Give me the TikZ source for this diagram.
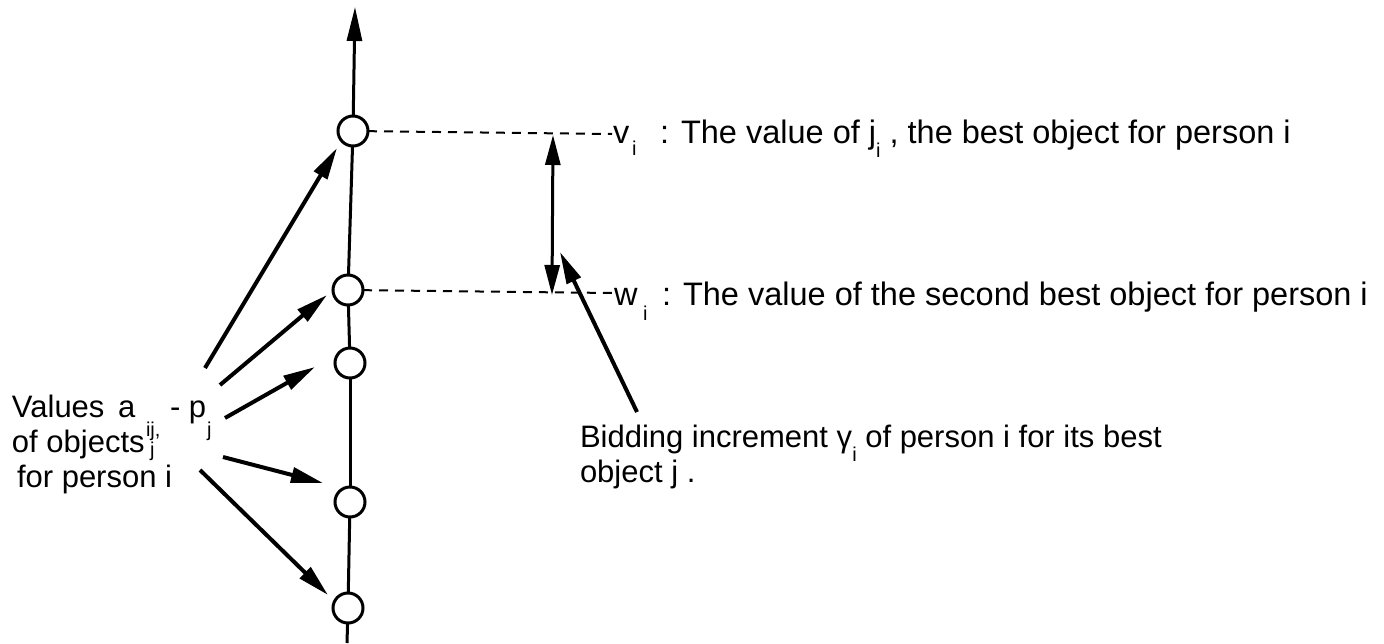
\documentclass[tikz,border=0pt]{standalone}
\usepackage{fontspec}
\setmainfont{Liberation Sans}
\usetikzlibrary{arrows.meta}
\newcommand{\lsub}[1]{\raisebox{-14pt}{\fontsize{20}{20}\selectfont #1}}
\begin{document}
\begin{tikzpicture}[x=1pt,y=-1pt,
  every node/.style={font=\fontsize{31}{36}\selectfont, inner sep=0pt, outer sep=0pt},
  big/.style={font=\fontsize{32.5}{38}\selectfont},
  obj/.style={circle, draw, line width=3pt, minimum size=30pt, fill=white},
  axisline/.style={line width=3pt},
  arr/.style={line width=4pt, -{Triangle[length=32pt,width=15pt]}},
  guide/.style={line width=2pt, dash pattern=on 9pt off 7pt},
  lbl/.style={anchor=base west},
  small/.style={anchor=base west, font=\fontsize{20}{20}\selectfont}]
\useasboundingbox (0,0) rectangle (1384,643);
% objects on the value axis
\node[obj] (c1) at (353,131) {};
\node[obj] (c2) at (348,290) {};
\node[obj] (c3) at (350,363) {};
\node[obj] (c4) at (350,502) {};
\node[obj] (c5) at (348,608) {};
\coordinate (top) at (355,7);
\coordinate (bot) at (347,643);
\draw[axisline, -{Triangle[length=34pt,width=15pt]}] (c1) -- (top);
\draw[axisline] (c1) -- (c2);
\draw[axisline] (c2) -- (c3);
\draw[axisline] (c3) -- (c4);
\draw[axisline] (c4) -- (c5);
\draw[axisline] (c5) -- (bot);
% dashed guides
\coordinate (vend) at (612,134);
\coordinate (wend) at (612,293);
\draw[guide] (c1) -- (vend);
\draw[guide] (c2) -- (wend);
% labels v_i and w_i
\node[lbl, big] (v) at (613,143) {v};
\node[small] (vi) at (632,155) {i};
\node[lbl, big] (vtext) at (660,143) {: The value of j\lsub{i} , the best object for person i};
\node[lbl, big] (w) at (614,305) {w};
\node[small] (wi) at (643,320) {i};
\node[lbl, big] (wtext) at (662,305) {: The value of the second best object for person i};
% bidding increment
\coordinate (dtop) at (553,135);
\coordinate (dbot) at (552,295);
\draw[line width=3pt, {Triangle[length=30pt,width=15pt]}-{Triangle[length=30pt,width=15pt]}] (dtop) -- (dbot);
\coordinate (bs) at (637,412);
\coordinate (bt) at (560,252);
\draw[arr] (bs) -- (bt);
\node[lbl] (bid1) at (580,447) {Bidding increment γ\lsub{i} of person i for its best};
\node[lbl] (bid2) at (580,482) {object j .};
% left label
\node[lbl] (val) at (12,417) {Values};
\node[lbl] (a) at (118,417) {a};
\node[small] (ij) at (146,436) {ij,};
\node[lbl] (p) at (170,417) {- p};
\node[small] (pj) at (207,436) {j};
\node[lbl] (of) at (12,452) {of objects};
\node[small] (oj) at (150,456) {j};
\node[lbl] (fp) at (17,487) {for person i};
% arrows from label to objects
\coordinate (s1) at (205,368); \coordinate (t1) at (337,148);
\coordinate (s2) at (220,385); \coordinate (t2) at (327,295);
\coordinate (s3) at (225,418); \coordinate (t3) at (315,367);
\coordinate (s4) at (223,457); \coordinate (t4) at (323,483);
\coordinate (s5) at (200,470); \coordinate (t5) at (328,595);
\draw[arr] (s1) -- (t1);
\draw[arr] (s2) -- (t2);
\draw[arr] (s3) -- (t3);
\draw[arr] (s4) -- (t4);
\draw[arr] (s5) -- (t5);
\end{tikzpicture}
\end{document}
